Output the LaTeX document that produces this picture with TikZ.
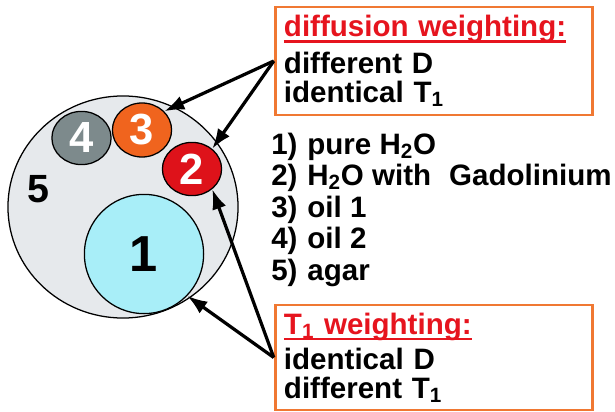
\documentclass[tikz,border=0pt]{standalone}
\usepackage{fontspec}
\setmainfont{Liberation Sans}
\usepackage{xcolor}
\usetikzlibrary{arrows.meta,shapes.geometric,positioning}

\definecolor{agargray}{RGB}{230,233,236}
\definecolor{oiltwo}{RGB}{125,138,140}
\definecolor{oilone}{RGB}{240,100,30}
\definecolor{gadored}{RGB}{222,18,26}
\definecolor{waterblue}{RGB}{168,238,248}
\definecolor{boxorange}{RGB}{240,120,50}
\definecolor{titlered}{RGB}{230,20,30}

\newcommand{\boxtitle}[1]{{\color{titlered}\setbox0\hbox{#1}%
  \rlap{\rule[-4.5pt]{\wd0}{1.7pt}}\box0}}

\tikzset{
  phantom/.style={ellipse, draw=black, line width=0.9pt, inner sep=0pt,
    font=\fontsize{31}{31}\selectfont\bfseries, text=white},
  infobox/.style={draw=boxorange, line width=2pt, fill=white, align=left,
    inner xsep=0.22cm, inner ysep=0.05cm, text width=7.5cm,
    font=\fontsize{21}{20.5}\selectfont\bfseries},
  pointer/.style={-{Latex[length=0.5cm,width=0.36cm]}, line width=2.3pt},
}

\begin{document}
\begin{tikzpicture}[x=0.025cm, y=-0.025cm]
  \useasboundingbox (0,0) rectangle (615,412);

  % phantom
  \node[phantom, fill=agargray, minimum width=5.75cm, minimum height=5.55cm] (agar) at (123,207) {};
  \node[phantom, fill=oiltwo, minimum width=1.48cm, minimum height=1.33cm] (c4) at (81.5,138) {4};
  \node[phantom, fill=oilone, minimum width=1.48cm, minimum height=1.35cm] (c3) at (142,130) {3};
  \node[phantom, fill=gadored, minimum width=1.48cm, minimum height=1.33cm] (c2) at (192,169) {2};
  \node[phantom, fill=waterblue, minimum width=2.98cm, minimum height=2.98cm,
    text=black, font=\fontsize{36}{36}\selectfont\bfseries] (c1) at (144,254) {1};
  \node[font=\fontsize{28}{28}\selectfont\bfseries] (l5) at (38,189) {5};

  % boxes
  \node[infobox, minimum height=2.7cm] (dbox) at (434,61)
    {\boxtitle{diffusion weighting:}\\[6pt] different D\\ identical T\textsubscript{1}};
  \node[infobox, minimum height=2.62cm] (tbox) at (434,357.5)
    {\boxtitle{T\textsubscript{1} weighting:}\\[4.5pt] identical D\\ different T\textsubscript{1}};

  % legend (base = last line)
  \node[align=left, anchor=base west, inner sep=0pt,
    font=\fontsize{21}{22.4}\selectfont\bfseries] (legend) at (271,280)
    {1)\,\,pure H\textsubscript{2}O\\
     2)\,\,H\textsubscript{2}O with\,\, Gadolinium\\
     3)\,\,oil 1\\
     4)\,\,oil 2\\
     5)\,\,agar};

  \draw[pointer] (dbox.west) -- (c3.40);
  \draw[pointer] (dbox.west) -- (c2.45);
  \draw[pointer] (tbox.west) -- (c2.-45);
  \draw[pointer] (tbox.west) -- (c1.-44);

\end{tikzpicture}
\end{document}
